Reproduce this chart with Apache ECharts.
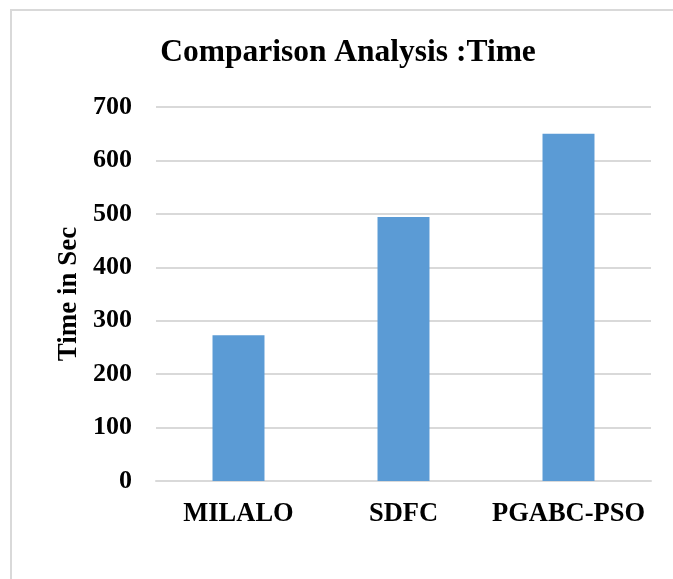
<!DOCTYPE html>
<html>
<head>
<meta charset="utf-8">
<script src="https://cdn.jsdelivr.net/npm/echarts@6/dist/echarts.min.js"></script>
<style>
html,body{margin:0;padding:0;background:#fff;}
#frame{position:absolute;left:10px;top:9px;width:700px;height:600px;border:2px solid #d9d9d9;box-sizing:border-box;}
#c{position:absolute;left:0;top:0;width:673px;height:579px;}
</style>
</head>
<body>
<div id="frame"></div>
<div id="c"></div>
<script>
const categories = ['MILALO', 'SDFC', 'PGABC-PSO'];
const timeValues = [273, 494, 650];
const yTicks = [0, 100, 200, 300, 400, 500, 600, 700];

const font = '"Liberation Serif", "Times New Roman", serif';
const chart = echarts.init(document.getElementById('c'), null, {renderer: 'canvas'});
chart.setOption({
  backgroundColor: 'transparent',
  animation: false,
  title: {
    text: 'Comparison Analysis :Time',
    left: 343, top: 32, textAlign: 'center',
    textStyle: {fontFamily: font, fontWeight: 'bold', fontSize: 31.5, color: '#000'}
  },
  grid: {left: 156, right: 22, top: 107, bottom: 98},
  xAxis: {
    type: 'category',
    data: categories,
    axisLine: {show: true, lineStyle: {color: '#d9d9d9', width: 2}},
    axisTick: {show: false},
    axisLabel: {interval: 0, fontFamily: font, fontWeight: 'bold', fontSize: 26.5, color: '#000', margin: 20}
  },
  yAxis: {
    type: 'value',
    min: yTicks[0], max: yTicks[yTicks.length - 1], interval: 100,
    name: 'Time in Sec',
    nameLocation: 'middle',
    nameGap: 70,
    nameTextStyle: {fontFamily: font, fontWeight: 'bold', fontSize: 27, color: '#000'},
    axisLine: {show: false},
    axisTick: {show: false},
    splitLine: {lineStyle: {color: '#d9d9d9', width: 2}},
    axisLabel: {fontFamily: font, fontWeight: 'bold', fontSize: 26, color: '#000', margin: 24}
  },
  series: [{
    type: 'bar',
    data: timeValues,
    barWidth: '31.5%',
    itemStyle: {color: '#5B9BD5'}
  }]
});
</script>
</body>
</html>
